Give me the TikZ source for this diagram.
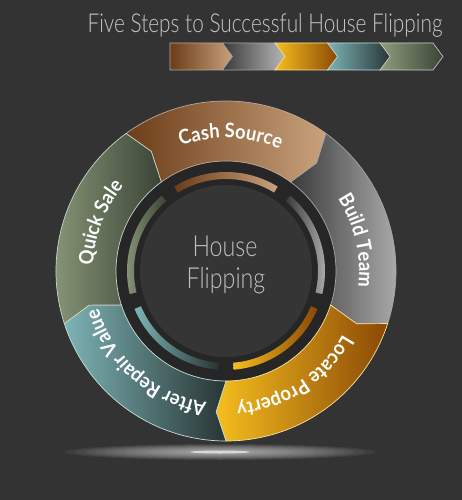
\documentclass[tikz,border=0pt]{standalone}
\usepackage{fontspec}
\usetikzlibrary{decorations.text}
\newfontfamily\thinfont{Lato}[UprightFont=* Light, FakeStretch=0.8]
\newfontfamily\labelbase{Lato}[FakeStretch=0.92]
\newcommand\labelfont{\labelbase\bfseries\fontsize{20}{20}\selectfont}

\definecolor{bg}{HTML}{333333}
\definecolor{ringdark}{HTML}{262626}
\definecolor{hubgray}{HTML}{353535}
\definecolor{cashA}{HTML}{6B3D18}
\definecolor{cashB}{HTML}{C9A27C}
\definecolor{teamA}{HTML}{3A3A3A}
\definecolor{teamB}{HTML}{B8B8B8}
\definecolor{propA}{HTML}{F5BE1E}
\definecolor{propB}{HTML}{8A4806}
\definecolor{valueA}{HTML}{7DB4B6}
\definecolor{valueB}{HTML}{283434}
\definecolor{saleA}{HTML}{8E9D7D}
\definecolor{saleB}{HTML}{3A4436}

\begin{document}
\begin{tikzpicture}[x=1pt, y=1pt]
    \tikzstyle{segment}=[line width=0.7pt]
    \tikzstyle{chevron}=[line width=0.6pt]
    \tikzstyle{seglabel}=[decorate, decoration={text along path, text align=center, text color=white}]
    % background
    \useasboundingbox (-226,-229) rectangle (236,271);
    \fill[bg] (-226,-229) rectangle (236,271);

    % title and step arrows
    \node [anchor=base, text=gray!45!white, font=\thinfont\fontsize{26}{26}\selectfont] (title) at (39,238) {Five Steps to Successful House Flipping};

    \foreach \i/\n/\ca/\cb in {0/0/cashA/cashB, 1/10/teamA/teamB, 2/10/propA/propB, 3/10/valueA/valueB, 4/10/saleA/saleB}
    \path [chevron, left color=\ca, right color=\cb, draw=white!55!\ca] ({-56+52.5*\i},228) -- ++(53,0) -- ++(10,-13.5) -- ++(-10,-13.5) -- ++(-53,0) -- ++(\n,13.5) -- cycle;

    % floor glow
    \foreach \k in {0,...,13}
    \fill [white, opacity=0.055] (-6,-181) ellipse [x radius={155-10*\k}, y radius={8-0.5*\k}];
    \fill [white, opacity=0.6] (-6,-181) ellipse [x radius=30, y radius=1.5];

    % dark ring and hub
    \fill [ringdark] (0,0) circle (110);
    \fill [hubgray] (0,0) circle (86);

    % draw segments
    \foreach \b/\ca/\cb in {126/cashA/cashB, 54/teamA/teamB, -18/propA/propB, -90/valueA/valueB, 198/saleA/saleB}
    {
    \path [segment, left color=\ca, right color=\cb, draw=white!55!\ca]
      ({\b}:170) arc [start angle=\b, end angle=\b-72, radius=170]
      -- ({\b-76}:141) -- ({\b-72}:110)
      arc [start angle=\b-72, end angle=\b, radius=110]
      -- ({\b-4}:141) -- cycle;
    \shade [left color=\ca, right color=\cb]
      ({\b-4.5}:99) arc [start angle=\b-4.5, end angle=\b-67.5, radius=99]
      -- ({\b-67.5}:92) arc [start angle=\b-67.5, end angle=\b-4.5, radius=92] -- cycle;
    }

    % draw text
    \path [seglabel, decoration={text={|\labelfont|Cash Source}}] (148:133) arc [start angle=148, end angle=28, radius=133];
    \path [seglabel, decoration={text={|\labelfont|Build Team}}] (73:133) arc [start angle=73, end angle=-47, radius=133];
    \path [seglabel, decoration={text={|\labelfont|Locate Property}}] (3:133) arc [start angle=3, end angle=-117, radius=133];
    \path [seglabel, decoration={text={|\labelfont|After Repair Value}}] (-71:133) arc [start angle=-71, end angle=-191, radius=133];
    \path [seglabel, decoration={text={|\labelfont|Quick Sale}}] (219:133) arc [start angle=219, end angle=99, radius=133];

    \node [anchor=base, text=gray!50!white, font=\thinfont\fontsize{29}{29}\selectfont] (hubtop) at (-1,14) {House};
    \node [anchor=base, text=gray!50!white, font=\thinfont\fontsize{29}{29}\selectfont] (hubbottom) at (0,-17) {Flipping};
\end{tikzpicture}
\end{document}
